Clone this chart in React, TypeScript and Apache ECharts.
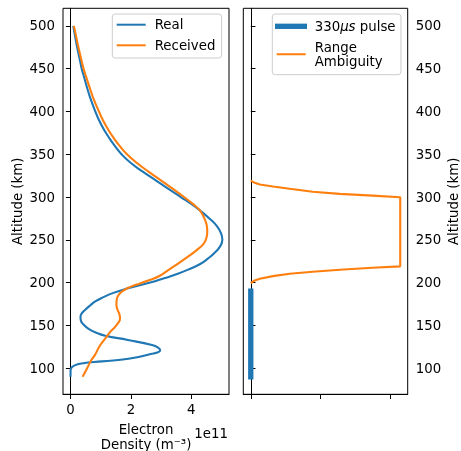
import React, { useEffect, useRef } from 'react';
import * as echarts from 'echarts';

// ---- data (densities in units of 1e11 m^-3, altitude in km) ----
const realAlt = [90, 97, 100, 103, 105.5, 108, 111, 116, 121, 124, 127, 133, 138, 142, 146, 151, 156, 160, 164, 168, 173, 178, 183, 188, 193, 200, 205, 210, 216, 222, 228, 234, 242, 250, 258, 266, 275, 284, 292, 300, 310, 320, 330, 340, 350, 360, 368, 378, 390, 400, 414, 425, 440, 450, 460, 475, 490, 500];
const realDensity = [0.0, 0.0, 0.02, 0.12, 0.37, 1.04, 1.92, 2.59, 2.97, 2.9, 2.7, 1.9, 1.15, 0.82, 0.6, 0.43, 0.34, 0.33, 0.37, 0.48, 0.64, 0.82, 1.09, 1.42, 1.87, 2.64, 3.1, 3.53, 3.95, 4.31, 4.55, 4.75, 4.95, 5.03, 4.98, 4.85, 4.6, 4.3, 4.0, 3.65, 3.22, 2.8, 2.38, 1.99, 1.69, 1.46, 1.3, 1.12, 0.94, 0.82, 0.67, 0.57, 0.45, 0.37, 0.31, 0.22, 0.14, 0.09];

const recvAlt = [90, 100, 109, 115, 125, 131, 137, 143, 148, 153, 158, 163, 168, 174, 180, 186, 191, 195, 199, 203, 208, 215, 222, 230, 238, 245, 252, 259, 265, 272, 279, 285, 292, 300, 310, 320, 330, 340, 350, 360, 368, 378, 390, 400, 414, 425, 440, 450, 460, 475, 490, 500];
const recvDensity = [0.4, 0.55, 0.68, 0.8, 0.95, 1.07, 1.2, 1.33, 1.47, 1.58, 1.64, 1.62, 1.56, 1.52, 1.53, 1.6, 1.76, 1.98, 2.3, 2.62, 2.96, 3.25, 3.55, 3.88, 4.18, 4.4, 4.5, 4.53, 4.52, 4.47, 4.38, 4.27, 4.05, 3.76, 3.37, 2.97, 2.57, 2.19, 1.87, 1.62, 1.45, 1.26, 1.07, 0.94, 0.77, 0.66, 0.52, 0.43, 0.36, 0.26, 0.17, 0.11];

const pulseAlt = [90, 190];
const pulseValue = [0, 0];

const ambAlt = [199.5, 202.6, 204.6, 207.6, 210.4, 212.7, 215.1, 217.4, 219, 299.8, 301.6, 303.7, 306.2, 309.6, 312.2, 314.6, 316.6, 319.2];
const ambValue = [0, 0.057, 0.13, 0.32, 0.56, 0.89, 1.28, 1.75, 2.15, 2.15, 1.75, 1.28, 0.89, 0.56, 0.32, 0.13, 0.057, 0];

const altTicks = [100, 150, 200, 250, 300, 350, 400, 450, 500];
const densityTicks = [0, 2, 4];
const rightTicks = [0, 1, 2];

const FONT = 'DejaVu Sans';
const FS = 13.33;
const BLUE = '#1f77b4';
const ORANGE = '#ff7f0e';
const LW = 2.1;

const zip = (xs: number[], ys: number[]) => xs.map((x, i) => [x, ys[i]]);

export default function App() {
  const ref = useRef<HTMLDivElement>(null);
  useEffect(() => {
    const chart = echarts.init(ref.current!, null, { renderer: 'svg' });
    const yCommon = (gridIndex: number, position: 'left' | 'right') => ({
      type: 'value',
      gridIndex,
      position,
      min: 69.5,
      max: 520.5,
      axisLine: { show: true, lineStyle: { color: '#000', width: 1 } },
      axisTick: { show: true, inside: false, length: 4.7, lineStyle: { color: '#000', width: 1 }, customValues: altTicks },
      axisLabel: { show: true, customValues: altTicks, color: '#000', fontSize: FS, fontFamily: FONT, margin: 8 },
      splitLine: { show: false },
      name: 'Altitude (km)',
      nameLocation: 'middle',
      nameRotate: 90,
      nameGap: 39,
      nameTextStyle: { color: '#000', fontSize: FS, fontFamily: FONT },
    });
    const gridCommon = {
      top: 8.3, height: 386, show: true, borderColor: '#000', borderWidth: 1,
      backgroundColor: 'transparent', containLabel: false, outerBoundsMode: 'none',
    };
    const option: any = {
      animation: false,
      textStyle: { fontFamily: FONT },
      grid: [
        { ...gridCommon, left: 63, width: 166 },
        { ...gridCommon, left: 243.3, width: 164.4 },
      ],
      xAxis: [
        {
          type: 'value', gridIndex: 0, min: -0.25, max: 5.25,
          axisLine: { show: true, onZero: false, lineStyle: { color: '#000', width: 1 } },
          axisTick: { show: true, inside: false, length: 4.7, lineStyle: { color: '#000', width: 1 }, customValues: densityTicks },
          axisLabel: { show: true, customValues: densityTicks, color: '#000', fontSize: FS, fontFamily: FONT, margin: 9 },
          splitLine: { show: false },
          name: 'Electron\nDensity (m⁻³)',
          nameLocation: 'middle',
          nameGap: 28,
          nameTextStyle: { color: '#000', fontSize: FS, fontFamily: FONT, lineHeight: 14.5, align: 'center' },
        },
        {
          type: 'value', gridIndex: 1, min: -0.1075, max: 2.2575,
          axisLine: { show: true, onZero: false, lineStyle: { color: '#000', width: 1 } },
          axisTick: { show: true, inside: false, length: 4.7, lineStyle: { color: '#000', width: 1 }, customValues: rightTicks },
          axisLabel: { show: false },
          splitLine: { show: false },
        },
      ],
      yAxis: [yCommon(0, 'left'), yCommon(1, 'right')],
      legend: [
        {
          data: ['Real', 'Received'],
          orient: 'vertical',
          left: 112.3,
          top: 14,
          padding: [3.7, 6.3, 5.7, 4.4],
          itemGap: 6.6,
          itemWidth: 29,
          itemHeight: 2,
          icon: 'rect',
          itemStyle: { borderWidth: 0 },
          backgroundColor: 'rgba(255,255,255,0.8)',
          borderColor: '#cccccc',
          borderWidth: 1,
          borderRadius: 3,
          selectedMode: false,
          textStyle: { color: '#000', fontSize: FS, fontFamily: FONT, lineHeight: 14, padding: [0, 0, 0, 4] },
        },
        {
          data: [
            { name: '330μs pulse', icon: 'rect' },
            { name: 'Range\nAmbiguity', icon: 'path://M0,0L0.01,0L0,0.01Z M1.7,1.67H30.7V3.67H1.7Z M32,5.33L31.99,5.33L32,5.32Z' },
          ],
          orient: 'vertical',
          left: 272.3,
          top: 14,
          padding: [5.3, 5.4, 6.4, 2.7],
          itemGap: 7,
          itemWidth: 32,
          itemHeight: 5.33,
          itemStyle: { borderWidth: 0 },
          backgroundColor: 'rgba(255,255,255,0.8)',
          borderColor: '#cccccc',
          borderWidth: 1,
          borderRadius: 3,
          selectedMode: false,
          formatter: (name: string) => (name === '330μs pulse' ? '{a|330}{i|μs}{a| pulse}' : name),
          textStyle: {
            color: '#000', fontSize: FS, fontFamily: FONT, lineHeight: 14, padding: [0, 0, 0, 2.7],
            rich: {
              a: { color: '#000', fontSize: FS, fontFamily: FONT, lineHeight: 14 },
              i: { color: '#000', fontSize: FS, fontFamily: FONT, lineHeight: 14, fontStyle: 'italic' },
            },
          },
        },
      ],
      graphic: [
        {
          type: 'text',
          x: 228,
          y: 433,
          style: { text: '1e11', align: 'right', verticalAlign: 'middle', fontSize: FS, fontFamily: FONT, fill: '#000' },
        },
      ],
      series: [
        {
          name: 'Real', type: 'line', xAxisIndex: 0, yAxisIndex: 0,
          data: zip(realDensity, realAlt), showSymbol: false, symbol: 'none', smooth: 0.5,
          color: BLUE, lineStyle: { color: BLUE, width: LW },
        },
        {
          name: 'Received', type: 'line', xAxisIndex: 0, yAxisIndex: 0,
          data: zip(recvDensity, recvAlt), showSymbol: false, symbol: 'none', smooth: 0.5,
          color: ORANGE, lineStyle: { color: ORANGE, width: LW },
        },
        {
          name: '330μs pulse', type: 'line', xAxisIndex: 1, yAxisIndex: 1,
          data: zip(pulseValue, pulseAlt), showSymbol: false, symbol: 'none',
          color: BLUE, lineStyle: { color: BLUE, width: 5.33, cap: 'square' },
        },
        {
          name: 'Range\nAmbiguity', type: 'line', xAxisIndex: 1, yAxisIndex: 1,
          data: zip(ambValue, ambAlt), showSymbol: false, symbol: 'none', smooth: false,
          color: ORANGE, lineStyle: { color: ORANGE, width: LW },
        },
      ],
    };
    chart.setOption(option);
    return () => chart.dispose();
  }, []);
  return <div ref={ref} style={{ position: 'fixed', left: 0, top: 0, width: 461, height: 451 }} />;
}
